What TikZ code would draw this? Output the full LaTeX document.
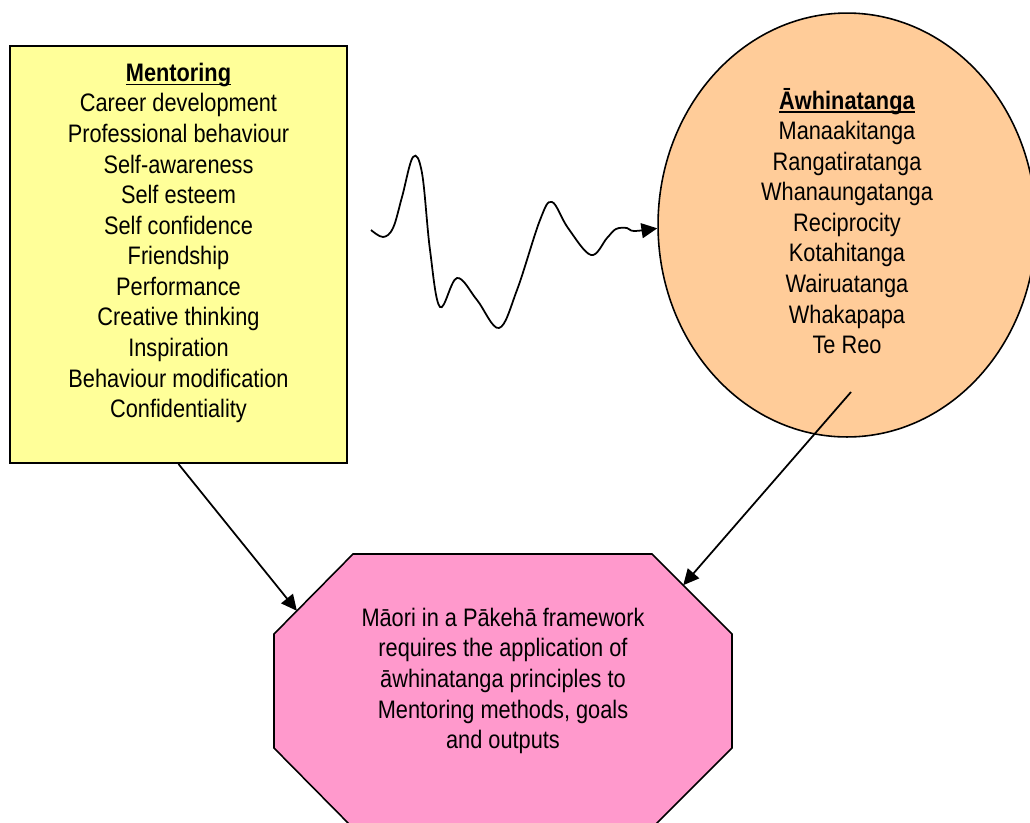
\documentclass[tikz,border=0pt]{standalone}
\usepackage{fontspec}
\setmainfont{Liberation Sans}[FakeStretch=0.86]
\usetikzlibrary{arrows.meta,shapes.geometric,calc}
\definecolor{mentyellow}{RGB}{255,255,153}
\definecolor{awpeach}{RGB}{255,204,153}
\definecolor{octpink}{RGB}{255,153,204}
\newcommand\headul[1]{\setbox0\hbox{#1}\rlap{\rule[-2.3pt]{\wd0}{1.1pt}}\box0}
\tikzset{
  mentbox/.style={draw, line width=1.2pt, fill=mentyellow,
    minimum width=6.74cm, minimum height=8.34cm, inner sep=0pt},
  awoval/.style={draw, ellipse, line width=0.9pt, fill=awpeach,
    minimum width=7.56cm, minimum height=8.48cm, inner sep=0pt},
  listtext/.style={align=center, font=\fontsize{14.4}{17.4}\selectfont},
  link/.style={line width=1pt, -{Triangle[length=9pt,width=8.5pt]}}
}
\begin{document}
\begin{tikzpicture}[x=0.02cm, y=-0.02cm]
  \useasboundingbox (0,0) rectangle (1030,822);
  \clip (0,0) rectangle (1030,822);
  % Mentoring box
  \node[mentbox] (ment) at (178.5,254.5) {};
  \node[listtext] (menttext) at (178.5,243) {\headul{\textbf{Mentoring}}\\
    Career development\\ Professional behaviour\\ Self-awareness\\
    Self esteem\\ Self confidence\\ Friendship\\ Performance\\
    Creative thinking\\ Inspiration\\ Behaviour modification\\
    Confidentiality};
  % Awhinatanga oval
  \node[awoval] (aw) at (847,225) {};
  \node[listtext] (awtext) at (847,221) {\headul{\textbf{Āwhinatanga}}\\
    Manaakitanga\\ Rangatiratanga\\ Whanaungatanga\\ Reciprocity\\
    Kotahitanga\\ Wairuatanga\\ Whakapapa\\ Te Reo};
  % octagon
  \coordinate (o1) at (353,554);
  \coordinate (o2) at (652,554);
  \coordinate (o3) at (732,634);
  \coordinate (o4) at (732,748);
  \coordinate (o5) at (652,828);
  \coordinate (o6) at (353,828);
  \coordinate (o7) at (274,748);
  \coordinate (o8) at (274,634);
  \filldraw[fill=octpink, draw=black, line width=0.9pt]
    (o1) -- (o2) -- (o3) -- (o4) -- (o5) -- (o6) -- (o7) -- (o8) -- cycle;
  \node[listtext] (maori) at (503,681) {Māori in a Pākehā framework\\
    requires the application of\\ āwhinatanga principles to\\
    Mentoring methods, goals\\ and outputs};
  % connectors
  \coordinate (wavestart) at (371,230);
  \coordinate (awtail) at (851,392);
  \draw[link] plot[smooth, tension=0.6] coordinates {(wavestart) (383,237)
    (393,228) (402,197) (413,157) (422,173) (430,250) (440,307) (457,278)
    (477,300) (499,328) (517,290) (540,220) (552,202) (568,228) (591,255)
    (607,238) (616,229) (627,228) (634,231) (aw.181)};
  \draw[link] (ment.south) -- ($(o8)!0.29!(o1)$);
  \draw[link] (awtail) -- ($(o2)!0.39!(o3)$);
\end{tikzpicture}
\end{document}
